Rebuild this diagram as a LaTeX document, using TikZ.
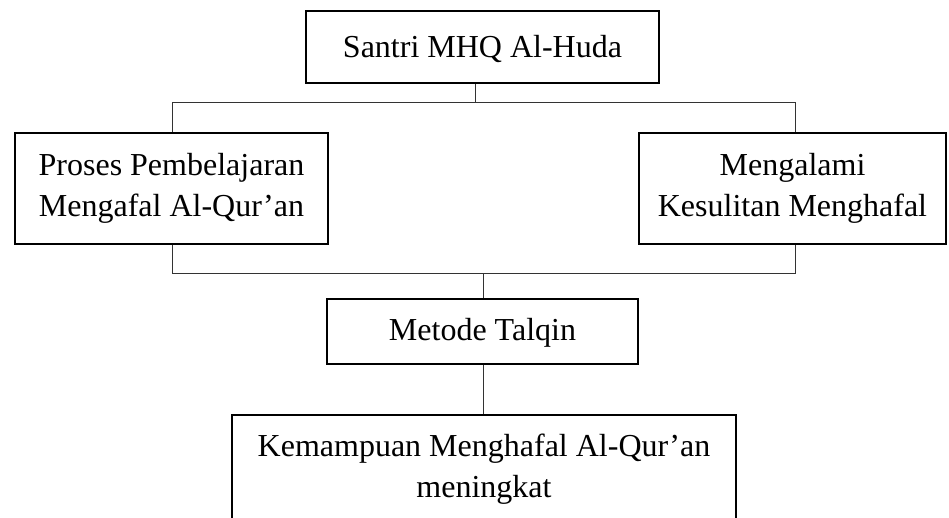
\documentclass[tikz,border=0pt]{standalone}
\usepackage{fontspec}
\setmainfont{Liberation Serif}
\begin{document}
\begin{tikzpicture}[x=1pt,y=-1pt,
  boxline/.style={draw=black,line width=2pt},
  lbl/.style={align=center,inner sep=0pt,font=\fontsize{32}{41}\selectfont},
  conn/.style={draw=black!80,line width=1pt}]
\useasboundingbox (0,0) rectangle (949,517);
\clip (0,0) rectangle (949,517);
% boxes
\node[boxline,minimum width=353,minimum height=72,inner sep=0pt] (santri) at (482.5,47) {};
\node[lbl] at (482.5,48.5) {Santri MHQ Al-Huda};
\node[boxline,minimum width=313,minimum height=111,inner sep=0pt] (proses) at (171.5,188.5) {};
\node[lbl] at (proses) {Proses Pembelajaran\\Mengafal Al-Qur’an};
\node[boxline,minimum width=307,minimum height=111,inner sep=0pt] (alami) at (792.5,188.5) {};
\node[lbl] at (alami) {Mengalami\\Kesulitan Menghafal};
\node[boxline,minimum width=311,minimum height=65,inner sep=0pt] (talqin) at (482.5,331.5) {};
\node[lbl] at (482.5,333) {Metode Talqin};
\node[boxline,minimum width=504,minimum height=140,inner sep=0pt,anchor=north] (kem) at (484,414) {};
\node[lbl] (kemtxt) at (484,469) {Kemampuan Menghafal Al-Qur’an\\meningkat};
% connectors
\coordinate (top) at (475,102.5);
\coordinate (pl) at (172,102.5);
\coordinate (pr) at (795,102.5);
\coordinate (bl) at (172,273);
\coordinate (br) at (795,273);
\coordinate (bm) at (483,273);
\draw[conn] (santri.south -| top) -- (top);
\draw[conn] (proses.north -| pl) -- (pl) -- (pr) -- (alami.north -| pr);
\draw[conn] (proses.south -| bl) -- (bl) -- (br) -- (alami.south -| br);
\draw[conn] (bm) -- (talqin.north -| bm);
\draw[conn] (talqin.south -| bm) -- (kem.north -| bm);
\end{tikzpicture}
\end{document}
